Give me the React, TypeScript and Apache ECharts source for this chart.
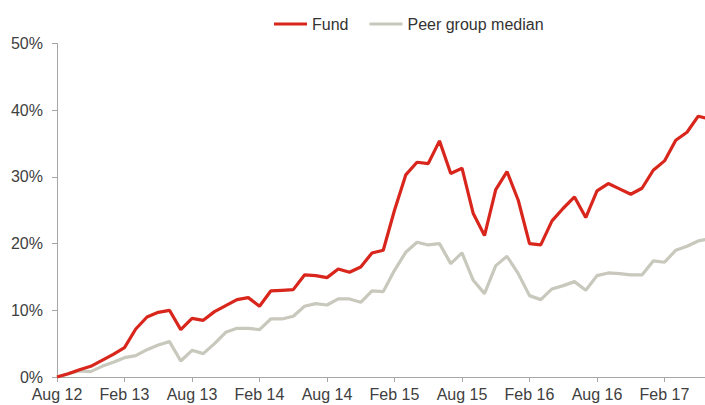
import React, { useEffect, useRef } from "react";
import * as echarts from "echarts";

const tickLabels = ["Aug 12", "Feb 13", "Aug 13", "Feb 14", "Aug 14", "Feb 15", "Aug 15", "Feb 16", "Aug 16", "Feb 17"];

// monthly values starting Aug 12 (index 0)
const fund = [
  0, 0.5, 1.1, 1.6, 2.5, 3.4, 4.4, 7.2, 9.0, 9.7,
  10.0, 7.1, 8.8, 8.5, 9.8, 10.7, 11.6, 11.9, 10.6, 12.9,
  13.0, 13.1, 15.3, 15.2, 14.9, 16.2, 15.7, 16.5, 18.6, 19.0,
  25.0, 30.3, 32.2, 32.0, 35.4, 30.5, 31.3, 24.5, 21.2, 28.1,
  30.8, 26.5, 20.0, 19.8, 23.4, 25.3, 27.0, 23.9, 27.9, 29.0,
  28.2, 27.4, 28.3, 31.0, 32.4, 35.5, 36.7, 39.1, 38.7,
];

const peer = [
  0, 0.5, 0.9, 0.8, 1.6, 2.2, 2.9, 3.2, 4.1, 4.8,
  5.3, 2.4, 4.0, 3.5, 5.0, 6.7, 7.3, 7.3, 7.1, 8.7,
  8.7, 9.1, 10.6, 11.0, 10.8, 11.7, 11.7, 11.2, 12.9, 12.8,
  16.0, 18.7, 20.2, 19.8, 20.0, 17.0, 18.6, 14.5, 12.5, 16.7,
  18.1, 15.5, 12.2, 11.6, 13.2, 13.7, 14.3, 13.0, 15.2, 15.6,
  15.5, 15.3, 15.3, 17.4, 17.2, 19.0, 19.6, 20.4, 20.7,
];

export default function App() {
  const ref = useRef<HTMLDivElement>(null);
  useEffect(() => {
    document.body.style.margin = "0";
    const chart = echarts.init(ref.current!, null, { renderer: "svg" });
    const axisColor = "#a6a6a6";
    const textColor = "#404040";
    chart.setOption({
      animation: false,
      backgroundColor: "#ffffff",
      textStyle: { fontFamily: "Liberation Sans, Arial, sans-serif" },
      legend: {
        left: 269,
        top: 11,
        icon: "rect",
        itemWidth: 33,
        itemHeight: 3,
        itemGap: 21,
        textStyle: { fontSize: 16, color: "#333333", fontFamily: "Liberation Sans, Arial, sans-serif" },
        data: ["Fund", "Peer group median"],
      },
      grid: { left: 57, right: 0, top: 43.5, bottom: 28, containLabel: false },
      xAxis: {
        type: "value",
        min: 0,
        max: 57.6,
        interval: 6,
        splitLine: { show: false },
        axisLine: { show: true, lineStyle: { color: axisColor, width: 1 } },
        axisTick: { show: true, length: 5, lineStyle: { color: axisColor } },
        axisLabel: {
          fontSize: 16,
          color: textColor,
          margin: 9,
          showMaxLabel: false,
          formatter: (v: number) => {
            const i = Math.round(v);
            if (Math.abs(v - i) > 1e-6 || i % 6 !== 0) return "";
            return tickLabels[i / 6] ?? "";
          },
        },
      },
      yAxis: {
        type: "value",
        min: 0,
        max: 50,
        interval: 10,
        splitLine: { show: false },
        axisLine: { show: true, lineStyle: { color: axisColor, width: 1 } },
        axisTick: { show: true, length: 5, lineStyle: { color: axisColor } },
        axisLabel: { fontSize: 16, color: textColor, margin: 14, formatter: "{value}%" },
      },
      series: [
        {
          name: "Peer group median",
          type: "line",
          symbol: "none",
          clip: true,
          z: 2,
          itemStyle: { color: "#C9C8BD" },
          lineStyle: { color: "#C9C8BD", width: 3.2 },
          data: peer.map((v, i) => [i, v]),
        },
        {
          name: "Fund",
          type: "line",
          symbol: "none",
          clip: true,
          z: 3,
          itemStyle: { color: "#D9261C" },
          lineStyle: { color: "#D9261C", width: 3.2 },
          data: fund.map((v, i) => [i, v]),
        },
      ],
    });
    return () => chart.dispose();
  }, []);
  return <div ref={ref} style={{ width: 705, height: 405 }} />;
}
